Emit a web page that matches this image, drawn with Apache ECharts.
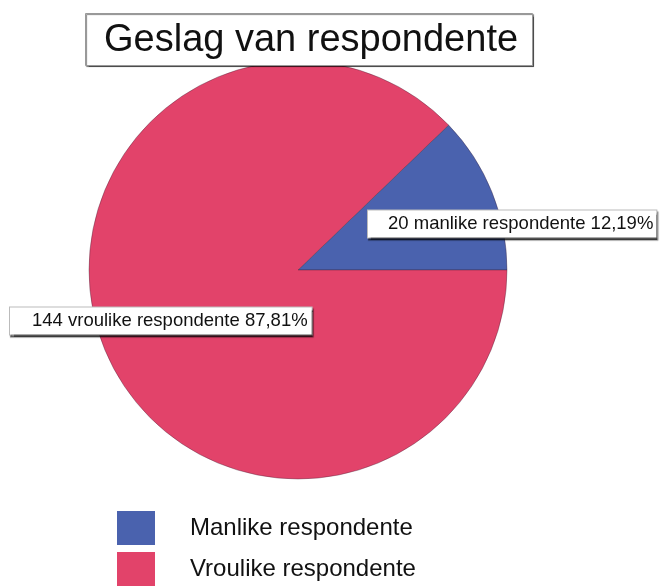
<!DOCTYPE html>
<html>
<head>
<meta charset="utf-8">
<script src="https://cdn.jsdelivr.net/npm/echarts@6/dist/echarts.min.js"></script>
<style>html,body{margin:0;padding:0;background:#fff;}#chart{width:664px;height:586px;}</style>
</head>
<body>
<div id="chart"></div>
<script>
const titleText = "Geslag van respondente";
const categories = ["Manlike respondente", "Vroulike respondente"];
const counts = [20, 144];
const labelWords = ["manlike respondente", "vroulike respondente"];
const percentLabels = ["12,19%", "87,81%"];
const colors = ["#4a62ae", "#e2436a"];

const chart = echarts.init(document.getElementById('chart'));
const boxStyle = {
  backgroundColor: '#fff',
  borderColor: '#bbb',
  borderWidth: 1,
  shadowColor: 'rgba(0,0,0,0.55)',
  shadowOffsetX: 1,
  shadowOffsetY: 2,
  shadowBlur: 1
};
chart.setOption({
  animation: false,
  title: {
    text: titleText,
    left: 85,
    top: 13,
    padding: [9, 15, 6, 19],
    backgroundColor: '#fff',
    borderColor: '#999',
    borderWidth: 1,
    shadowColor: 'rgba(0,0,0,0.5)',
    shadowOffsetX: 1,
    shadowOffsetY: 1,
    shadowBlur: 1,
    textStyle: { fontFamily: 'Liberation Sans', fontSize: 38, fontWeight: 'normal', color: '#111' }
  },
  legend: {
    orient: 'vertical',
    left: 117,
    top: 511,
    height: 78,
    itemWidth: 38,
    itemHeight: 34,
    itemGap: 7,
    padding: 0,
    icon: 'rect',
    itemStyle: { borderWidth: 0 },
    textStyle: { fontFamily: 'Liberation Sans', fontSize: 24, color: '#111', padding: [0, 0, 0, 30] },
    data: categories
  },
  series: [{
    type: 'pie',
    center: [298, 270],
    radius: 209,
    startAngle: 360 * counts[0] / (counts[0] + counts[1]),
    clockwise: true,
    silent: true,
    color: colors,
    itemStyle: { borderColor: 'rgba(60,30,50,0.6)', borderWidth: 0.6 },
    labelLine: { show: false },
    label: {
      show: true,
      position: 'inside',
      fontFamily: 'Liberation Sans',
      fontSize: 18.5,
      color: '#111',
      formatter: function (p) {
        return counts[p.dataIndex] + ' ' + labelWords[p.dataIndex] + ' ' + percentLabels[p.dataIndex];
      },
      ...boxStyle
    },
    labelLayout: function (params) {
      if (params.dataIndex === 0) {
        return { x: 368, y: 224, align: 'left', verticalAlign: 'middle' };
      }
      return { x: 10, y: 321, align: 'left', verticalAlign: 'middle' };
    },
    data: categories.map(function (c, i) {
      return {
        name: c,
        value: counts[i],
        label: i === 0 ? { padding: [4, 3, 4, 20] } : { padding: [4, 4, 4, 22] }
      };
    })
  }]
});
</script>
</body>
</html>
